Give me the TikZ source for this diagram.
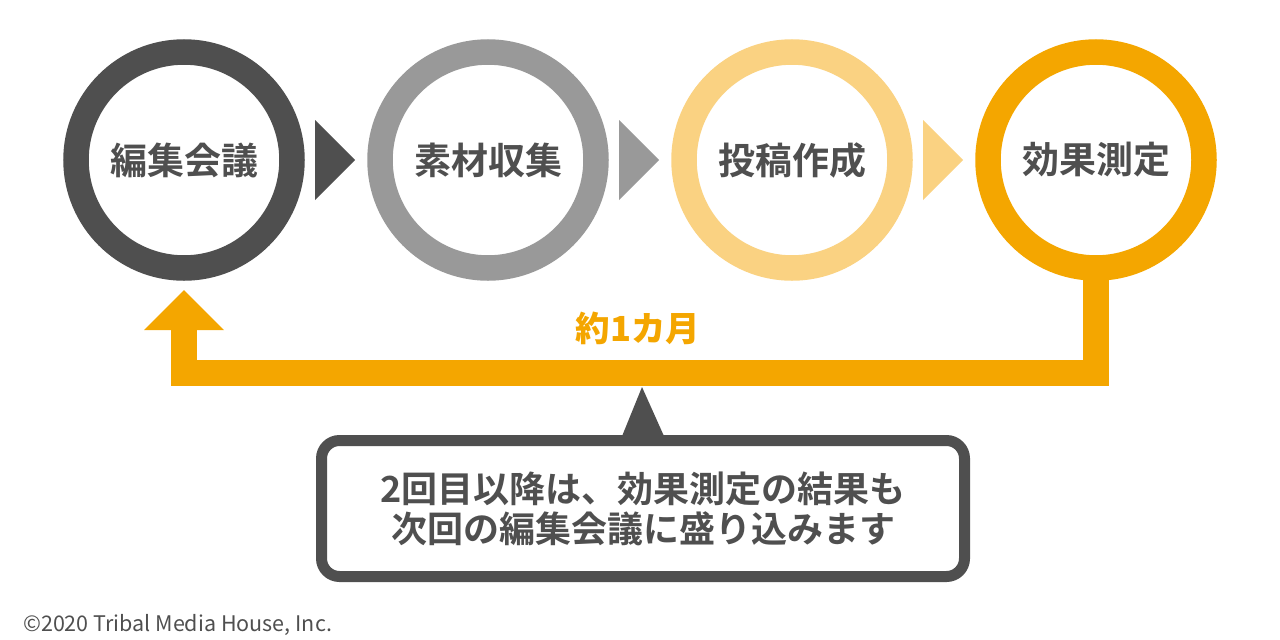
\documentclass[tikz,border=0pt]{standalone}
\usepackage{fontspec}
\usetikzlibrary{calc}
\setmainfont{Noto Sans CJK JP}
\newfontfamily\jpm{Noto Sans CJK JP Bold}
\IfFontExistsTF{Noto Sans CJK JP Black}
  {\newfontfamily\jpb{Noto Sans CJK JP Black}}
  {\newfontfamily\jpb{Noto Sans CJK JP Bold}[FakeBold=1.5]}
\definecolor{cA}{HTML}{4F4F4F}
\definecolor{cB}{HTML}{999999}
\definecolor{cC}{HTML}{FAD282}
\definecolor{cD}{HTML}{F4A600}
\definecolor{txt}{HTML}{4F4F4F}
\begin{document}
\begin{tikzpicture}[x=1pt,y=-1pt,
  ring/.style={circle, minimum size=216pt, line width=25.5pt, draw=#1, fill=white,
    inner sep=0pt, text=txt, font=\jpm\fontsize{37}{40}\selectfont},
  fb/.style={draw=cD, line width=26pt, line join=miter},
  notebox/.style={draw=cA, fill=white, line width=11pt, rounded corners=18pt,
    minimum width=643pt, minimum height=136pt, align=center, text=txt,
    font=\jpm\fontsize{36}{40}\selectfont, inner sep=0pt}]
\useasboundingbox (0,0) rectangle (1280,640);
% steps
\node[ring=cA] (a) at (184,160) {編集会議};
\node[ring=cB] (b) at (488,160) {素材収集};
\node[ring=cC] (c) at (792,160) {投稿作成};
% feedback line (under ring d)
\coordinate (ahb) at ($(a.center)+(0,170)$);
\node[ring=cD] (d) at (1096,160) {効果測定};
\draw[fb] ($(d.center)+(0,105)$) |- ($(ahb)+(0,43)$) -- (ahb);
\fill[cD] ($(ahb)+(-40,0)$) -- ($(ahb)+(40,0)$) -- ($(ahb)+(0,-40)$) -- cycle;
% step triangles
\foreach \n/\col in {a/cA,b/cB,c/cC}
  \fill[\col] ($(\n.center)+(131,-40)$) -- ++(40,40) -- ++(-40,40) -- cycle;
% label
\node[font=\jpb\fontsize{34.5}{36}\selectfont, text=cD, inner sep=0pt] (lbl) at (638,328) {約1カ月};
% note callout
\node[notebox] (note) at (643,508.5) {2回目以降は、効果測定の結果も\\次回の編集会議に盛り込みます};
\coordinate (ptip) at (642,387);
\fill[cA] ($(note.north)+(-20.5,0)$) -- ($(note.north)+(20.5,0)$) -- (ptip) -- cycle;
% copyright
\node[anchor=base west, inner sep=0pt, text=txt, font=\fontsize{21.5}{24}\selectfont] (cr) at (23,631) {©2020 Tribal Media House, Inc.};
\end{tikzpicture}
\end{document}
